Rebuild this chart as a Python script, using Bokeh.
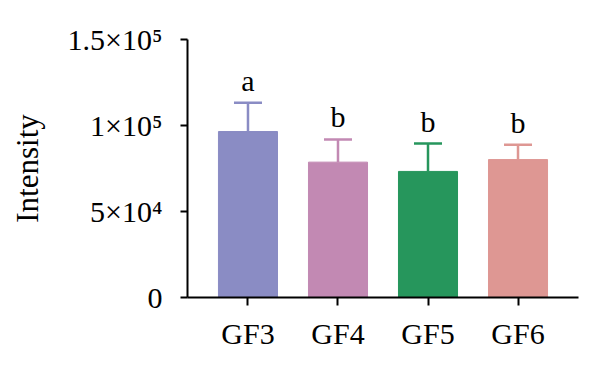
from bokeh.plotting import figure
from bokeh.models import FactorRange, Range1d, FixedTicker, ColumnDataSource
from bokeh.core.properties import value
from bokeh.embed import file_html
from bokeh.resources import INLINE

categories = ["GF3", "GF4", "GF5", "GF6"]
means = [96500, 78700, 73300, 80200]
errors = [16700, 13200, 16200, 8600]
letters = ["a", "b", "b", "b"]
colors = ["#8a8cc4", "#c289b3", "#26965c", "#de9793"]
y_ticks = [0, 50000, 100000, 150000]
y_tick_labels = ["0", "5×10⁴", "1×10⁵", "1.5×10⁵"]

FONT = "Liberation Serif"

tops = [m + e for m, e in zip(means, errors)]
src = ColumnDataSource(dict(x=categories, top=means, upper=tops, color=colors, letter=letters))

p = figure(width=584, height=352, output_backend="svg", toolbar_location=None,
           x_range=FactorRange(factors=categories, range_padding=0.086),
           y_range=Range1d(0, 150000),
           min_border_left=187, min_border_right=6, min_border_top=39, min_border_bottom=55)

p.vbar(x="x", top="top", width=0.656, bottom=0, source=src, fill_color="color", line_color="color", line_width=1)
p.segment(x0="x", y0="top", x1="x", y1="upper", source=src, line_color="color", line_width=2.5)
p.scatter(x="x", y="upper", source=src, marker="dash", size=28, line_color="color", line_width=2.5)
p.text(x="x", y="upper", text="letter", source=src, text_font=value(FONT), text_font_size="30px",
       text_align="center", text_baseline="bottom", y_offset=-6, text_color="black")

p.xgrid.visible = False
p.ygrid.visible = False
p.outline_line_color = None

for ax in (p.xaxis[0], p.yaxis[0]):
    ax.axis_line_width = 2
    ax.axis_line_color = "black"
    ax.major_tick_line_width = 2
    ax.major_tick_line_color = "black"
    ax.major_tick_in = 0
    ax.minor_tick_line_color = None
    ax.major_label_text_font = FONT
    ax.major_label_text_font_size = "30px"
    ax.major_label_text_color = "black"

p.xaxis.major_tick_out = 8
p.xaxis.major_label_standoff = 11
p.yaxis.major_tick_out = 7
p.yaxis.major_label_standoff = 18
p.yaxis.ticker = FixedTicker(ticks=y_ticks)
p.yaxis.major_label_overrides = {t: l for t, l in zip(y_ticks, y_tick_labels)}
p.yaxis.axis_label = "Intensity"
p.yaxis.axis_label_text_font = FONT
p.yaxis.axis_label_text_font_size = "31px"
p.yaxis.axis_label_text_font_style = "normal"
p.yaxis.axis_label_text_color = "black"
p.yaxis.axis_label_standoff = 20

open("out.html", "w").write(file_html(p, INLINE))
